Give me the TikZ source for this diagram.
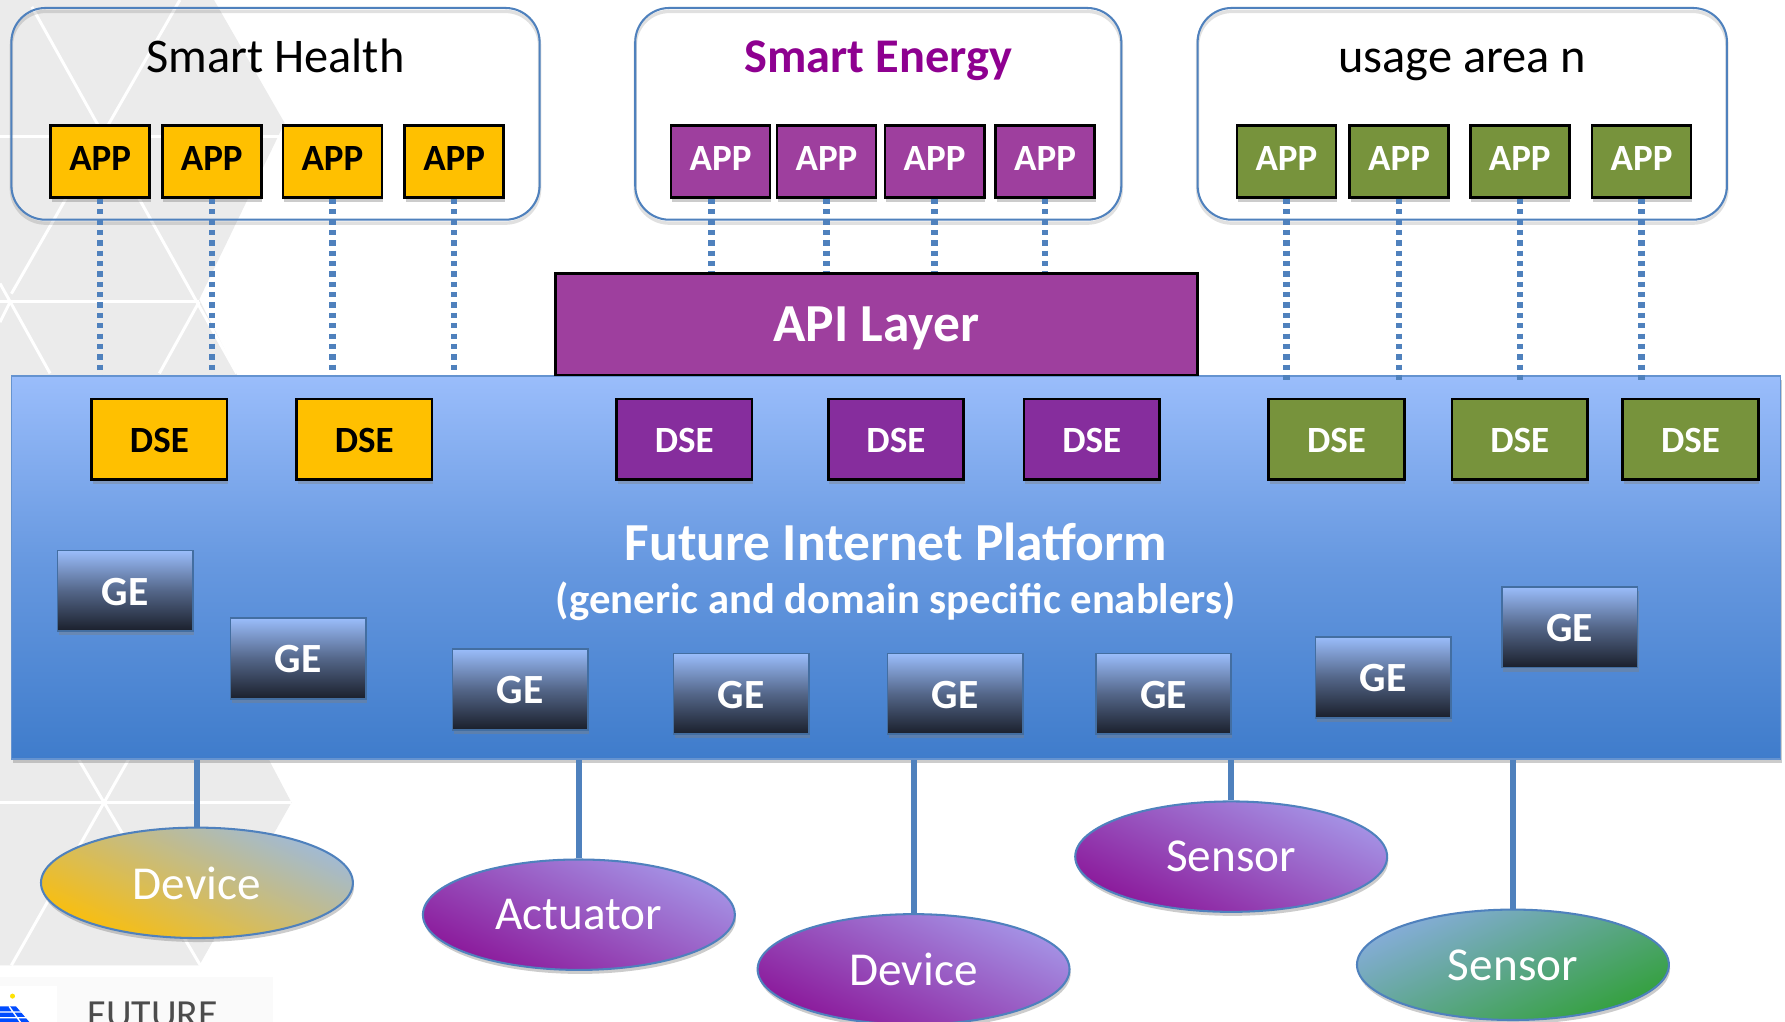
\documentclass[tikz,border=0pt]{standalone}
\usepackage{fontspec}
\setmainfont{Carlito}
\usetikzlibrary{shadows,calc,shapes.geometric}
\definecolor{bgray}{HTML}{EBEBEB}
\definecolor{lblue}{HTML}{4F81BD}
\definecolor{ptop}{HTML}{9ABDFB}
\definecolor{pbot}{HTML}{3F7CCB}
\definecolor{cyel}{HTML}{FFC000}
\definecolor{cpur}{HTML}{9E3F9E}
\definecolor{cdse}{HTML}{862D9D}
\definecolor{cgrn}{HTML}{77933C}
\definecolor{genv}{HTML}{1A1F2B}
\definecolor{smarte}{HTML}{8E0090}
\definecolor{pth1}{HTML}{8B189A}
\definecolor{pth2}{HTML}{A594E6}
\definecolor{yth}{HTML}{FABE0C}
\definecolor{yth2}{HTML}{9FBAD8}
\definecolor{gth}{HTML}{33A03C}
\definecolor{gth2}{HTML}{86ADDA}
\newcommand{\fs}[1]{\fontsize{#1}{#1}\selectfont}
\tikzset{
  x=1pt,y=-1pt,
  softshadow/.style={drop shadow={opacity=.4,shadow xshift=1pt,shadow yshift=-3.5pt}},
  areabox/.style={draw=lblue,line width=1.8pt,rounded corners=30pt,minimum width=#1,minimum height=186,inner sep=0,
    preaction={draw=black,opacity=.12,line width=3pt,transform canvas={yshift=-3pt}}},
  areatitle/.style={font=\fs{42.5},inner sep=0,text height=27pt,text depth=8pt},
  appbox/.style={draw=black,line width=2.4pt,minimum width=87,minimum height=63,inner sep=0,softshadow,
    font=\fs{32.5}\bfseries,text height=21pt,text depth=5.4pt},
  dsebox/.style={draw=black,line width=2.4pt,minimum width=119,minimum height=71,inner sep=0,softshadow,
    font=\fs{32.5}\bfseries,text height=23pt,text depth=0pt},
  gebox/.style={draw=lblue!85!black,line width=1.4pt,minimum width=119,minimum height=71,inner sep=0,softshadow,
    text=white,font=\fs{36.5}\bfseries,text height=25pt,text depth=0pt,
    shading=axis,top color=ptop,bottom color=genv,middle color=ptop!45!genv},
  yapp/.style={appbox,fill=cyel,text=black},
  papp/.style={appbox,fill=cpur,text=white},
  gapp/.style={appbox,fill=cgrn,text=white},
  ydse/.style={dsebox,fill=cyel,text=black},
  pdse/.style={dsebox,fill=cdse,text=white},
  gdse/.style={dsebox,fill=cgrn,text=white},
  dotlink/.style={draw=lblue,line width=5.6pt,dash pattern=on 4.6pt off 4.5pt},
  sollink/.style={draw=lblue,line width=5.2pt},
  thing/.style={ellipse,draw=lblue,line width=1.8pt,minimum width=274,minimum height=97,inner sep=0,
    text=white,font=\fs{41.5},text depth=0pt,softshadow},
  purplething/.style={thing,shading=axis,bottom color=pth1,top color=pth2,shading angle=-25},
  hexline/.style={draw=white,line width=2.6pt},
}
\begin{document}
\begin{tikzpicture}
\useasboundingbox (0,0) rectangle (1568,897.7);
\begin{scope}
\clip (0,0) rectangle (1568,897.7);
\fill[white] (0,0) rectangle (1568,897.7);
% background hexagon pattern
\fill[bgray] (0,0) -- (188,0) -- (250,108) -- (175,263) -- (208,328) -- (236,667) -- (256,705) -- (175,848) -- (0,848) -- cycle;
\draw[hexline] (28,6) -- (208,328);
\draw[hexline] (158,0) -- (10,258);
\draw[hexline] (0,120) -- (250,120);
\draw[hexline] (0,265) -- (175,265);
\draw[hexline] (0,249) -- (44,328);
\draw[hexline] (175,265) -- (140,328);
\draw[hexline] (0,283) -- (9,265);
\draw[hexline] (0,705) -- (256,705);
\draw[hexline] (69,667) -- (176,848);
\draw[hexline] (113,667) -- (10,848);
% logo strip
\fill[white!98!black] (0,858) rectangle (240,898);
\fill[white] (0,866) rectangle (50,898);
\node (futurelogo) [anchor=base west,inner sep=0,text=black!70,font=\fs{35}] at (77,903) {FUTURE};
\fill[blue!70!cyan] (0,884) -- (14,884) -- (26,898) -- (0,898) -- cycle;
\draw[white,line width=1.2pt] (0,889) -- (24,889) (0,894) -- (26,894) (8,884) -- (18,898);
\fill[yellow!85!orange] (11,875) circle (2.2);
\end{scope}

% usage areas
\node (health) [areabox=464] at (242,100) {};
\node (energy) [areabox=427] at (771.5,100) {};
\node (usage)  [areabox=465] at (1284.5,100) {};
\node (thealth) [areatitle] at (242,54) {Smart Health};
\node (tenergy) [areatitle,text=smarte,font=\fs{42.5}\bfseries] at (771.5,54) {Smart Energy};
\node (tusage)  [areatitle] at (1284.5,54) {usage area n};

% APP boxes
\node (ya1) [yapp] at (88,142) {APP};
\node (ya2) [yapp] at (186,142) {APP};
\node (ya3) [yapp] at (292,142) {APP};
\node (ya4) [yapp] at (399,142) {APP};
\node (pa1) [papp] at (633,142) {APP};
\node (pa2) [papp] at (726,142) {APP};
\node (pa3) [papp] at (821,142) {APP};
\node (pa4) [papp] at (918,142) {APP};
\node (ga1) [gapp] at (1130,142) {APP};
\node (ga2) [gapp] at (1229,142) {APP};
\node (ga3) [gapp] at (1335,142) {APP};
\node (ga4) [gapp] at (1442,142) {APP};

% platform geometry used by the connectors
\coordinate (ptopline) at (0,330);

% yellow and purple dotted connectors, under the platform and API layer
\foreach \n in {ya1,ya2,ya3,ya4,pa2,pa3,pa4}
  \draw[dotlink] (\n.south) -- (\n.south |- ptopline);
\draw[dotlink] ([xshift=-8pt]pa1.south) -- ([xshift=-8pt]pa1.south |- ptopline);

% platform
\node (plat) [draw=ptop!30!lblue,line width=1.5pt,minimum width=1554,minimum height=337,inner sep=0,
  shading=axis,top color=ptop,bottom color=pbot,middle color=ptop!42!pbot,softshadow] at (787,498.5) {};
\node (ptitle) [inner sep=0,text=white,font=\fs{47}\bfseries] at (787,476) {Future Internet Platform};
\node (psub) [inner sep=0,text=white,font=\fs{37.5}\bfseries] at (787,528) {(generic and domain specific enablers)};

% API layer
\node (api) [draw=black,line width=2.4pt,fill=cpur,minimum width=564,minimum height=89,inner sep=0,
  text=white,font=\fs{47}\bfseries,text depth=0pt] at (770,285) {API Layer};

% green dotted connectors on top of the platform
\foreach \n in {ga1,ga2,ga3,ga4}
  \draw[dotlink] (\n.south) -- ([yshift=-5pt]\n.south |- ptopline);

% DSE
\node (d1) [ydse] at (140,386) {DSE};
\node (d2) [ydse] at (320,386) {DSE};
\node (d3) [pdse] at (601,386) {DSE};
\node (d4) [pdse] at (787,386) {DSE};
\node (d5) [pdse] at (959,386) {DSE};
\node (d6) [gdse] at (1174,386) {DSE};
\node (d7) [gdse] at (1335,386) {DSE};
\node (d8) [gdse] at (1485,386) {DSE};

% GE
\node (g1) [gebox] at (110,519) {GE};
\node (g2) [gebox] at (262,578.5) {GE};
\node (g3) [gebox] at (457,605.5) {GE};
\node (g4) [gebox] at (651,609.5) {GE};
\node (g5) [gebox] at (839,609.5) {GE};
\node (g6) [gebox] at (1022,609.5) {GE};
\node (g7) [gebox] at (1215,595) {GE};
\node (g8) [gebox] at (1379,551) {GE};

% things
\node (e1) [thing,shading=axis,bottom color=yth,top color=yth2,shading angle=-25] at (173,775.5) {Device};
\node (e2) [purplething] at (508.5,803.5) {Actuator};
\node (e3) [purplething] at (802.5,851.5) {Device};
\node (e4) [purplething] at (1081.5,752.5) {Sensor};
\node (e5) [thing,shading=axis,bottom color=gth,top color=gth2,shading angle=25] at (1329,847.5) {Sensor};
\foreach \n in {e1,e2,e3,e4,e5}
  \draw[sollink] (\n.north) -- (\n.north |- plat.south);
\end{tikzpicture}
\end{document}
